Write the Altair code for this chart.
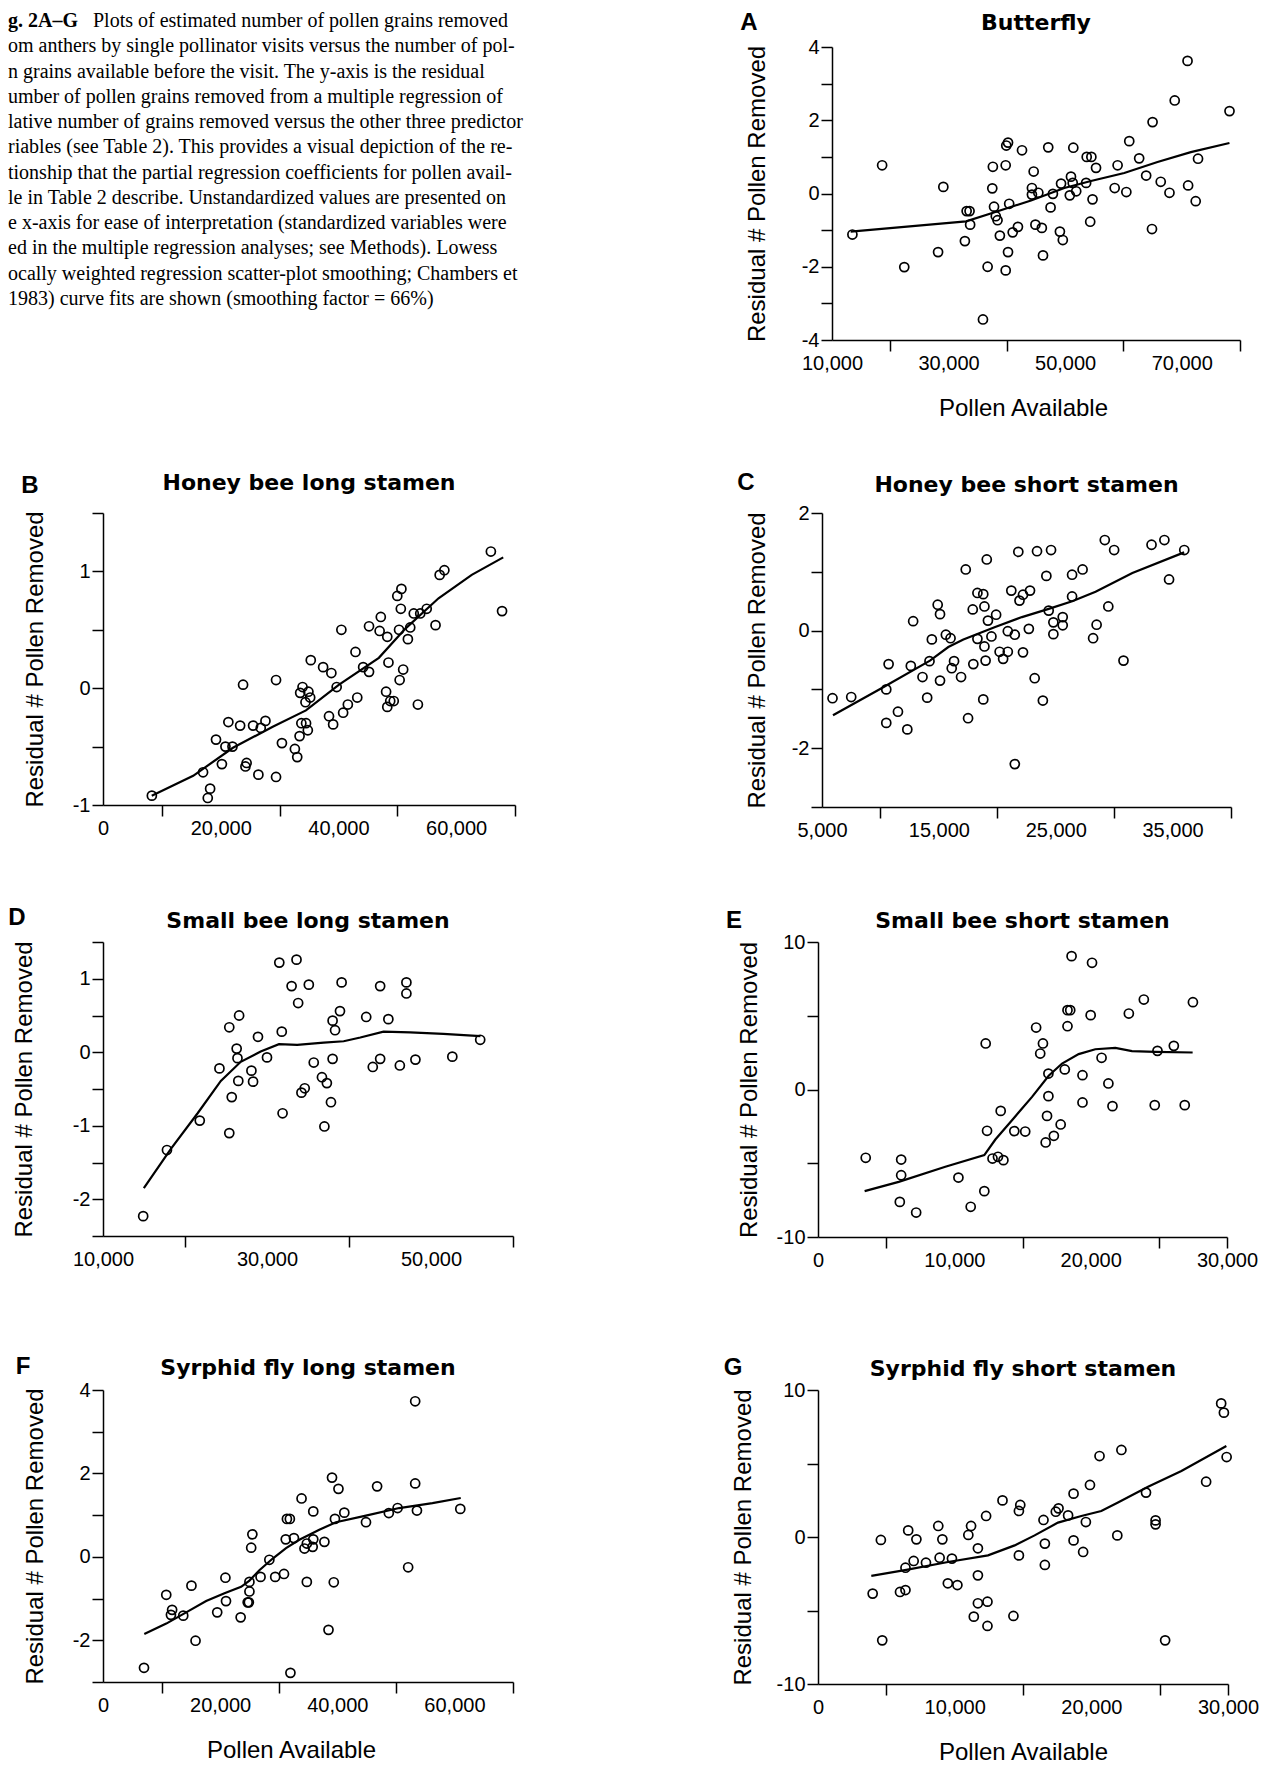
import json
import altair as alt
import pandas as pd

# ---------------- caption text ----------------
caption_bold = "g. 2A–G"
caption_first = "Plots of estimated number of pollen grains removed"
caption_lines = [
    "om anthers by single pollinator visits versus the number of pol-",
    "n grains available before the visit. The y-axis is the residual",
    "umber of pollen grains removed from a multiple regression of",
    "lative number of grains removed versus the other three predictor",
    "riables (see Table 2). This provides a visual depiction of the re-",
    "tionship that the partial regression coefficients for pollen avail-",
    "le in Table 2 describe. Unstandardized values are presented on",
    "e x-axis for ease of interpretation (standardized variables were",
    "ed in the multiple regression analyses; see Methods). Lowess",
    "ocally weighted regression scatter-plot smoothing; Chambers et",
    "1983) curve fits are shown (smoothing factor = 66%)",
]

# ---------------- panel A: Butterfly ----------------
a_points = [(13500, -1.12), (18600, 0.77), (22400, -2.01), (28200, -1.60), (29100, 0.18), (32800, -1.30),
            (33100, -0.48), (33600, -0.48), (33700, -0.85), (35900, -3.44), (36700, -2.00), (37500, 0.14),
            (37600, 0.73), (37800, -0.36), (38100, -0.62), (38400, -0.73), (38800, -1.15), (39800, 0.77),
            (39900, 1.31), (40200, 1.39), (40400, -0.28), (40200, -1.60), (39800, -2.10), (41000, -1.06),
            (41900, -0.91), (42600, 1.18), (44300, -0.03), (44300, 0.15), (44600, 0.60), (44900, -0.85),
            (45400, 0.02), (46000, -0.94), (46200, -1.69), (47100, 1.26), (47500, -0.38), (47900, -0.01),
            (49100, -1.04), (49300, 0.27), (49600, -1.27), (50800, -0.05), (51000, 0.46), (51300, 0.29),
            (51400, 1.25), (51900, 0.06), (53600, 0.29), (53700, 1.00), (54500, 1.00), (54700, -0.16),
            (54300, -0.77), (55300, 0.70), (58500, 0.15), (59000, 0.77), (60500, 0.04), (61000, 1.43),
            (62700, 0.96), (63900, 0.49), (64900, -0.97), (65000, 1.95), (66400, 0.32), (67900, 0.02),
            (68800, 2.54), (71000, 3.62), (71100, 0.22), (72400, -0.21), (72800, 0.95), (78200, 2.25)]
a_fit = [(13200, -1.04), (33000, -0.76), (37900, -0.51), (44150, -0.19), (49860, 0.15), (54430, 0.34),
         (60140, 0.56), (65850, 0.86), (71560, 1.13), (78190, 1.38)]

# ---------------- panel B: Honey bee long stamen ----------------
b_points = [(8300, -0.92), (17000, -0.72), (18200, -0.86), (17800, -0.94), (19200, -0.44), (20200, -0.65),
            (20800, -0.50), (21300, -0.29), (22000, -0.50), (23300, -0.32), (23800, 0.03), (24400, -0.64),
            (24200, -0.67), (25500, -0.32), (26400, -0.74), (26800, -0.34), (27600, -0.28), (29400, -0.76),
            (29400, 0.07), (30400, -0.47), (32600, -0.52), (33000, -0.59), (33400, -0.41), (33500, -0.04),
            (33900, 0.01), (33700, -0.30), (34400, -0.12), (34500, -0.30), (34800, -0.36), (34900, -0.03),
            (35200, -0.08), (35300, 0.24), (37400, 0.18), (38400, -0.24), (38800, 0.13), (39100, -0.31),
            (39700, 0.01), (40500, 0.50), (40800, -0.21), (41600, -0.14), (42900, 0.31), (43200, -0.08),
            (44200, 0.18), (45200, 0.53), (45200, 0.14), (47000, 0.49), (47200, 0.61), (48100, -0.03),
            (48300, 0.44), (48500, 0.22), (48300, -0.16), (48800, -0.11), (49400, -0.11), (50000, 0.79),
            (50700, 0.85), (50600, 0.68), (50300, 0.50), (50400, 0.07), (51000, 0.16), (51800, 0.42),
            (52200, 0.52), (52800, 0.64), (53500, -0.14), (53900, 0.64), (55000, 0.68), (56500, 0.54),
            (57200, 0.97), (58000, 1.01), (65900, 1.17), (67800, 0.66)]
b_fit = [(8280, -0.92), (15320, -0.75), (22080, -0.51), (28840, -0.33), (34480, -0.19), (40110, 0.03),
         (46870, 0.26), (51380, 0.51), (57010, 0.77), (62650, 0.97), (68000, 1.12)]

# ---------------- panel C: Honey bee short stamen ----------------
c_points = [(5900, -1.15), (7500, -1.13), (10500, -1.00), (10700, -0.57), (10500, -1.57), (11500, -1.38),
            (12300, -1.68), (12600, -0.60), (12800, 0.16), (13600, -0.79), (14000, -1.14), (14200, -0.52),
            (14400, -0.15), (14900, 0.44), (15100, 0.28), (15100, -0.85), (15600, -0.07), (16000, -0.13),
            (16100, -0.64), (16300, -0.52), (16900, -0.79), (17300, 1.04), (17500, -1.49), (17900, 0.36),
            (17950, -0.57), (18300, 0.64), (18300, -0.14), (18800, 0.62), (18900, 0.41), (18900, -0.27),
            (18800, -1.17), (19000, -0.51), (19100, 1.21), (19200, 0.17), (19500, -0.10), (19900, 0.27),
            (20200, -0.36), (20500, -0.48), (20900, -0.01), (20900, -0.36), (21200, 0.68), (21500, -0.07),
            (21500, -2.27), (21800, 1.34), (21900, 0.51), (22200, 0.61), (22200, -0.37), (22700, 0.03),
            (22800, 0.68), (23200, -0.81), (23400, 1.35), (23900, -1.19), (24200, 0.93), (24400, 0.34),
            (24600, 1.37), (24800, 0.14), (24800, -0.06), (25600, 0.23), (25600, 0.09), (26400, 0.95),
            (26400, 0.58), (27300, 1.04), (28200, -0.13), (28500, 0.10), (29200, 1.54), (29500, 0.41),
            (30000, 1.37), (30800, -0.51), (33200, 1.46), (34300, 1.54), (34700, 0.87), (36000, 1.37)]
c_fit = [(5940, -1.44), (10090, -0.98), (14240, -0.51), (15810, -0.28), (17100, -0.15), (19820, 0.06),
         (22110, 0.23), (24400, 0.37), (26410, 0.50), (28410, 0.66), (31560, 0.98), (35990, 1.33)]

# ---------------- panel D: Small bee long stamen ----------------
d_points = [(14900, -2.23), (17800, -1.33), (21800, -0.93), (24200, -0.22), (25400, 0.34), (25400, -1.10),
            (25700, -0.61), (26300, 0.05), (26400, -0.08), (26500, -0.39), (26600, 0.50), (28100, -0.25),
            (28300, -0.40), (28900, 0.21), (30000, -0.07), (31500, 1.22), (31900, -0.83), (31800, 0.28),
            (33000, 0.90), (33600, 1.26), (33800, 0.67), (34200, -0.55), (34600, -0.49), (35100, 0.92),
            (35700, -0.14), (36700, -0.34), (37000, -1.01), (37300, -0.42), (38000, -0.09), (37800, -0.68),
            (38000, 0.43), (38300, 0.30), (38900, 0.56), (39100, 0.95), (42100, 0.48), (42900, -0.20),
            (43800, -0.09), (43800, 0.90), (44800, 0.45), (46200, -0.18), (47000, 0.95), (47000, 0.80),
            (48100, -0.10), (52600, -0.06), (56000, 0.17)]
d_fit = [(14980, -1.85), (18300, -1.31), (21540, -0.83), (24370, -0.39), (26800, -0.13), (29230, 0.01),
         (31460, 0.11), (33680, 0.10), (36920, 0.13), (39350, 0.15), (41380, 0.20), (44210, 0.28),
         (47450, 0.27), (51500, 0.25), (56030, 0.22)]

# ---------------- panel E: Small bee short stamen ----------------
e_points = [(3500, -4.63), (6100, -4.75), (6100, -5.81), (6000, -7.62), (7200, -8.34), (10300, -5.97),
            (11200, -7.95), (12200, -6.89), (12300, 3.12), (12400, -2.80), (12800, -4.68), (13200, -4.56),
            (13600, -4.79), (13400, -1.45), (14400, -2.82), (15200, -2.85), (16000, 4.20), (16300, 2.44),
            (16500, 3.12), (16700, -3.59), (16800, -1.79), (16900, -0.45), (16900, 1.08), (17300, -3.14),
            (17800, -2.37), (18100, 1.36), (18300, 4.29), (18300, 5.38), (18500, 5.38), (18600, 9.04),
            (19400, 0.97), (19400, -0.88), (20000, 5.04), (20100, 8.59), (20800, 2.15), (21300, 0.41),
            (21600, -1.13), (22800, 5.15), (23900, 6.10), (24700, -1.06), (24900, 2.62), (26100, 2.96),
            (26900, -1.06), (27500, 5.92)]
e_fit = [(3420, -6.89), (5920, -6.26), (9340, -5.24), (12200, -4.45), (13010, -3.39), (14230, -2.08),
         (15700, -0.50), (16920, 0.93), (17900, 1.76), (19120, 2.40), (20340, 2.73), (21810, 2.82),
         (23030, 2.60), (24740, 2.55), (27480, 2.51)]

# ---------------- panel F: Syrphid fly long stamen ----------------
f_points = [(7000, -2.66), (10800, -0.91), (11800, -1.27), (11600, -1.39), (13700, -1.41), (15100, -0.69),
            (15800, -2.01), (19500, -1.33), (20900, -0.50), (21000, -1.06), (23500, -1.45), (24700, -1.09),
            (24900, -1.09), (25000, -0.83), (25000, -0.60), (25500, 0.54), (25300, 0.22), (26900, -0.48),
            (28400, -0.07), (29400, -0.48), (30900, -0.41), (31200, 0.42), (31400, 0.91), (31900, 0.91),
            (32600, 0.45), (32000, -2.78), (33900, 1.40), (34400, 0.20), (34800, 0.32), (34800, -0.60),
            (35800, 0.24), (35900, 0.42), (35900, 1.09), (37800, 0.36), (38500, -1.75), (39100, 1.90),
            (39400, -0.61), (39600, 0.91), (40200, 1.63), (41200, 1.06), (44900, 0.83), (46800, 1.69),
            (48800, 1.05), (50300, 1.17), (52100, -0.25), (53300, 3.73), (53300, 1.76), (53600, 1.11),
            (61000, 1.15)]
f_fit = [(7050, -1.85), (10800, -1.60), (14200, -1.33), (17610, -1.06), (20740, -0.87), (23580, -0.72),
         (25000, -0.57), (26700, -0.32), (28980, -0.04), (31250, 0.21), (33520, 0.41), (36930, 0.65),
         (39770, 0.83), (44890, 0.99), (50570, 1.17), (56250, 1.29), (61080, 1.41)]

# ---------------- panel G: Syrphid fly short stamen ----------------
g_points = [(4000, -3.85), (4600, -0.20), (4700, -7.03), (6000, -3.74), (6400, -3.61), (6400, -2.09),
            (6600, 0.45), (7000, -1.63), (7200, -0.16), (7900, -1.75), (8800, 0.75), (8900, -1.41),
            (9100, -0.16), (9500, -3.15), (9800, -1.47), (10200, -3.27), (11000, 0.14), (11200, 0.75),
            (11400, -5.42), (11700, -0.77), (11700, -2.61), (11700, -4.51), (12300, 1.43), (12400, -4.40),
            (12400, -6.05), (13500, 2.49), (14300, -5.37), (14700, 1.77), (14800, 2.18), (14700, -1.25),
            (16500, 1.16), (16600, -0.45), (16600, -1.90), (17400, 1.72), (17600, 1.95), (18300, 1.47),
            (18700, 2.95), (18700, -0.23), (19400, -1.02), (19600, 1.02), (19900, 3.54), (20600, 5.51),
            (21900, 0.11), (22200, 5.92), (24000, 3.02), (24700, 1.13), (24700, 0.86), (25400, -7.03),
            (28400, 3.76), (29500, 9.09), (29700, 8.46), (29900, 5.44)]
g_fit = [(3900, -2.65), (6460, -2.24), (9510, -1.70), (12440, -1.25), (14390, -0.57), (15850, 0.11),
         (17560, 0.98), (19270, 1.43), (20730, 1.77), (21950, 2.34), (24150, 3.42), (26590, 4.49),
         (29880, 6.19)]

Y_TITLE = "Residual # Pollen Removed"
X_TITLE = "Pollen Available"
SANS = "Liberation Sans"


def panel(points, fit, letter, title, xdom, xticks, xlabels, ydom, yticks, ylabels,
          w, h, ytp, ldx, ldy, tdy, xtitle=None, inset=0, xtitle_x=None):
    pts = pd.DataFrame(points, columns=["x", "y"])
    lfit = pd.DataFrame(fit, columns=["x", "y"])
    common = dict(domainColor="black", domainWidth=1.5, tickColor="black", tickWidth=1.5,
                  labelColor="black", labelFont=SANS, labelFontSize=20, titleFont=SANS,
                  titleFontSize=24, titleFontWeight="normal", titleColor="black", grid=False,
                  labelFlush=False, labelOverlap=False)
    xvals = sorted(set(xticks) | set(xlabels))
    xlab = "indexof(%s, datum.value) >= 0 ? format(datum.value, ',') : ''" % json.dumps(xlabels)
    xtest = "indexof(%s, datum.value) >= 0" % json.dumps(xticks)
    xkw = dict(common, values=xvals, labelExpr=xlab,
               tickOpacity={"condition": {"test": xtest, "value": 1}, "value": 0},
               tickSize=11, labelPadding=2, titlePadding=23)
    if xtitle_x is not None:
        xkw["titleX"] = xtitle_x
    xaxis = alt.Axis(title=xtitle, **xkw) if xtitle else alt.Axis(title=None, **xkw)
    ylab = "indexof(%s, datum.value) >= 0 ? '' + datum.value : ''" % json.dumps(ylabels)
    ykw = dict(common, title=Y_TITLE, values=yticks, labelExpr=ylab, tickSize=11, labelPadding=2,
               titlePadding=ytp)
    if inset:
        ykw["offset"] = -inset
        xscale = alt.Scale(domain=xdom, nice=False, zero=False, range=[inset, w])
    else:
        xscale = alt.Scale(domain=xdom, nice=False, zero=False)
    yaxis = alt.Axis(**ykw)
    X = alt.X("x:Q", scale=xscale, axis=xaxis)
    Y = alt.Y("y:Q", scale=alt.Scale(domain=ydom, nice=False, zero=False), axis=yaxis)
    pts_l = alt.Chart(pts).mark_point(shape="circle", filled=False, color="black", size=82,
                                      strokeWidth=1.7, opacity=1).encode(x=X, y=Y)
    fit_l = alt.Chart(lfit).mark_line(color="black", strokeWidth=2.2).encode(x=X, y=Y)
    title_l = alt.Chart(pd.DataFrame({"t": [title]})).mark_text(
        font="DejaVu Sans", fontSize=22, fontWeight="bold", align="center",
        baseline="alphabetic", color="black").encode(
        text="t:N", x=alt.value((w + inset) / 2), y=alt.value(tdy))
    letter_l = alt.Chart(pd.DataFrame({"t": [letter]})).mark_text(
        font=SANS, fontSize=24, fontWeight="bold", align="center", baseline="middle",
        color="black").encode(text="t:N", x=alt.value(ldx + inset), y=alt.value(ldy))
    return alt.layer(pts_l, fit_l, title_l, letter_l).properties(width=w, height=h)


A = panel(a_points, a_fit, "A", "Butterfly", [10000, 80000], [20000, 40000, 60000, 80000],
          [10000, 30000, 50000, 70000], [-4, 4], [-4, -3, -2, -1, 0, 1, 2, 3, 4], [-4, -2, 0, 2, 4],
          418, 293, 32, -83, -24, -17, X_TITLE, inset=10, xtitle_x=201)
B = panel(b_points, b_fit, "B", "Honey bee long stamen", [0, 70000], [10000, 30000, 50000, 70000],
          [0, 20000, 40000, 60000], [-1, 1.5], [-1, -0.5, 0, 0.5, 1, 1.5], [-1, 0, 1],
          412, 292, 25, -73, -27, -23)
C = panel(c_points, c_fit, "C", "Honey bee short stamen", [5000, 40000], [10000, 20000, 30000, 40000],
          [5000, 15000, 25000, 35000], [-3, 2], [-3, -2, -1, 0, 1, 2], [-2, 0, 2],
          409, 294, 22, -76, -30, -21)
D = panel(d_points, d_fit, "D", "Small bee long stamen", [10000, 60000], [20000, 40000, 60000],
          [10000, 30000, 50000], [-2.5, 1.5], [-2.5, -2, -1.5, -1, -0.5, 0, 0.5, 1, 1.5], [-2, -1, 0, 1],
          410, 294, 36, -86, -24, -14)
E = panel(e_points, e_fit, "E", "Small bee short stamen", [0, 30000], [5000, 15000, 25000, 30000],
          [0, 10000, 20000, 30000], [-10, 10], [-10, -5, 0, 5, 10], [-10, 0, 10],
          409, 295, 15, -84, -21, -14)
F = panel(f_points, f_fit, "F", "Syrphid fly long stamen", [0, 70000], [10000, 30000, 50000, 70000],
          [0, 20000, 40000, 60000], [-3, 4], [-3, -2, -1, 0, 1, 2, 3, 4], [-2, 0, 2, 4],
          410, 292, 25, -80, -23, -15, X_TITLE, xtitle_x=188)
G = panel(g_points, g_fit, "G", "Syrphid fly short stamen", [0, 30000], [5000, 15000, 25000, 30000],
          [0, 10000, 20000, 30000], [-10, 10], [-10, -5, 0, 5, 10], [-10, 0, 10],
          410, 294, 21, -85, -22, -14, X_TITLE)

# ---------------- caption block ----------------
cap_b = pd.DataFrame({"line": [0], "text": [caption_bold]})
cap_0 = pd.DataFrame({"line": [0], "text": [caption_first]})
cap_r = pd.DataFrame({"line": list(range(1, 1 + len(caption_lines))), "text": caption_lines})
Yc = alt.Y("line:Q", scale=alt.Scale(domain=[0, 11], range=[-20, 258]), axis=None)
txt = dict(font="Liberation Serif", fontSize=20, align="left", baseline="alphabetic", color="black")
c1 = alt.Chart(cap_b).mark_text(fontWeight="bold", **txt).encode(text="text:N", y=Yc, x=alt.value(-95))
c2 = alt.Chart(cap_0).mark_text(**txt).encode(text="text:N", y=Yc, x=alt.value(-10))
c3 = alt.Chart(cap_r).mark_text(**txt).encode(text="text:N", y=Yc, x=alt.value(-95))
caption = alt.layer(c1, c2, c3).properties(width=410, height=293)

top = alt.concat(caption, A, B, C, columns=2, spacing={"row": 51, "column": 214}, align="each")
bottom = alt.concat(D, E, F, G, columns=2, spacing={"row": 85, "column": 209}, align="each")

chart = alt.vconcat(top, bottom, spacing=66).properties(
    padding={"left": 0, "top": 3, "right": 5, "bottom": 5}
).configure_view(stroke=None)

chart.save("out.html", embed_options={"renderer": "svg", "actions": False})
